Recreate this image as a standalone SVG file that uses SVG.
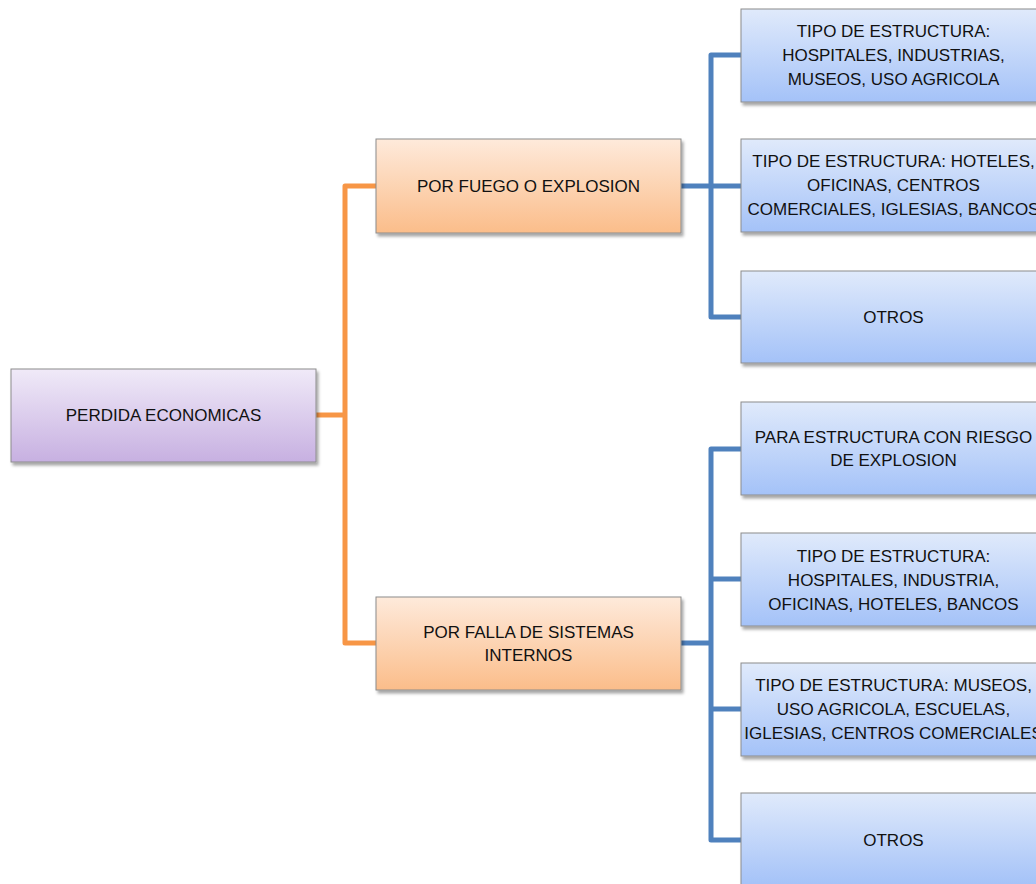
<svg xmlns="http://www.w3.org/2000/svg" width="1036" height="884" viewBox="0 0 1036 884">
  <defs>
    <linearGradient id="gPurple" x1="0" y1="0" x2="0" y2="1">
      <stop offset="0" stop-color="#F0EAF8"/>
      <stop offset="1" stop-color="#C7B0E1"/>
    </linearGradient>
    <linearGradient id="gOrange" x1="0" y1="0" x2="0" y2="1">
      <stop offset="0" stop-color="#FEEADB"/>
      <stop offset="1" stop-color="#FBBD8A"/>
    </linearGradient>
    <linearGradient id="gBlue" x1="0" y1="0" x2="0" y2="1">
      <stop offset="0" stop-color="#E0EAFB"/>
      <stop offset="1" stop-color="#A4C2F8"/>
    </linearGradient>
    <filter id="shadow" x="-5%" y="-10%" width="115%" height="130%">
      <feDropShadow dx="2" dy="3" stdDeviation="1.8" flood-color="#000" flood-opacity="0.35"/>
    </filter>
  </defs>
  <style>
    .box { stroke: #8C8C8C; stroke-width: 1; filter: url(#shadow); }
    .root { fill: url(#gPurple); }
    .mid { fill: url(#gOrange); }
    .leaf { fill: url(#gBlue); }
    .lbl { font-family: "Liberation Sans", Arial, sans-serif; font-size: 17px; fill: #111; text-anchor: middle; }
    .cO { fill: none; stroke: #F79646; stroke-width: 5; stroke-linejoin: round; }
    .cB { fill: none; stroke: #4F81BD; stroke-width: 5; stroke-linejoin: round; }
  </style>
  <rect width="1036" height="884" fill="#FFFFFF"/>

  <!-- connectors -->
  <g id="connectors">
    <path class="cO" d="M316 415 H345"/>
    <path class="cO" d="M376 186 H345 V643 H376"/>
    <path class="cB" d="M681 186 H741"/>
    <path class="cB" d="M741 55 H711 V317 H741"/>
    <path class="cB" d="M681 643 H711"/>
    <path class="cB" d="M741 449 H711 V840 H741"/>
    <path class="cB" d="M711 579 H741"/>
    <path class="cB" d="M711 709 H741"/>
  </g>

  <!-- root -->
  <g id="root">
    <rect class="box root" x="11" y="369" width="305" height="93"/>
    <text class="lbl" x="163.5" y="421">PERDIDA ECONOMICAS</text>
  </g>

  <!-- second level -->
  <g id="fuego">
    <rect class="box mid" x="376" y="139" width="305" height="94"/>
    <text class="lbl" x="528.5" y="192">POR FUEGO O EXPLOSION</text>
  </g>
  <g id="falla">
    <rect class="box mid" x="376" y="597" width="305" height="93"/>
    <text class="lbl" x="528.5" y="638">POR FALLA DE SISTEMAS</text>
    <text class="lbl" x="528.5" y="661">INTERNOS</text>
  </g>

  <!-- leaves under POR FUEGO O EXPLOSION -->
  <g id="fuego-hospitales">
    <rect class="box leaf" x="741" y="9" width="305" height="93"/>
    <text class="lbl" x="893.5" y="37">TIPO DE ESTRUCTURA:</text>
    <text class="lbl" x="893.5" y="61">HOSPITALES, INDUSTRIAS,</text>
    <text class="lbl" x="893.5" y="85">MUSEOS, USO AGRICOLA</text>
  </g>
  <g id="fuego-hoteles">
    <rect class="box leaf" x="741" y="139" width="305" height="93"/>
    <text class="lbl" x="893.5" y="167">TIPO DE ESTRUCTURA: HOTELES,</text>
    <text class="lbl" x="893.5" y="191">OFICINAS, CENTROS</text>
    <text class="lbl" x="893.5" y="215">COMERCIALES, IGLESIAS, BANCOS</text>
  </g>
  <g id="fuego-otros">
    <rect class="box leaf" x="741" y="271" width="305" height="92"/>
    <text class="lbl" x="893.5" y="323">OTROS</text>
  </g>

  <!-- leaves under POR FALLA DE SISTEMAS INTERNOS -->
  <g id="falla-riesgo">
    <rect class="box leaf" x="741" y="402" width="305" height="93"/>
    <text class="lbl" x="893.5" y="443">PARA ESTRUCTURA CON RIESGO</text>
    <text class="lbl" x="893.5" y="466">DE EXPLOSION</text>
  </g>
  <g id="falla-hospitales">
    <rect class="box leaf" x="741" y="533" width="305" height="93"/>
    <text class="lbl" x="893.5" y="562">TIPO DE ESTRUCTURA:</text>
    <text class="lbl" x="893.5" y="586">HOSPITALES, INDUSTRIA,</text>
    <text class="lbl" x="893.5" y="610">OFICINAS, HOTELES, BANCOS</text>
  </g>
  <g id="falla-museos">
    <rect class="box leaf" x="741" y="663" width="305" height="93"/>
    <text class="lbl" x="893.5" y="691">TIPO DE ESTRUCTURA: MUSEOS,</text>
    <text class="lbl" x="893.5" y="715">USO AGRICOLA, ESCUELAS,</text>
    <text class="lbl" x="893.5" y="739">IGLESIAS, CENTROS COMERCIALES</text>
  </g>
  <g id="falla-otros">
    <rect class="box leaf" x="741" y="793" width="305" height="93"/>
    <text class="lbl" x="893.5" y="846">OTROS</text>
  </g>
</svg>
